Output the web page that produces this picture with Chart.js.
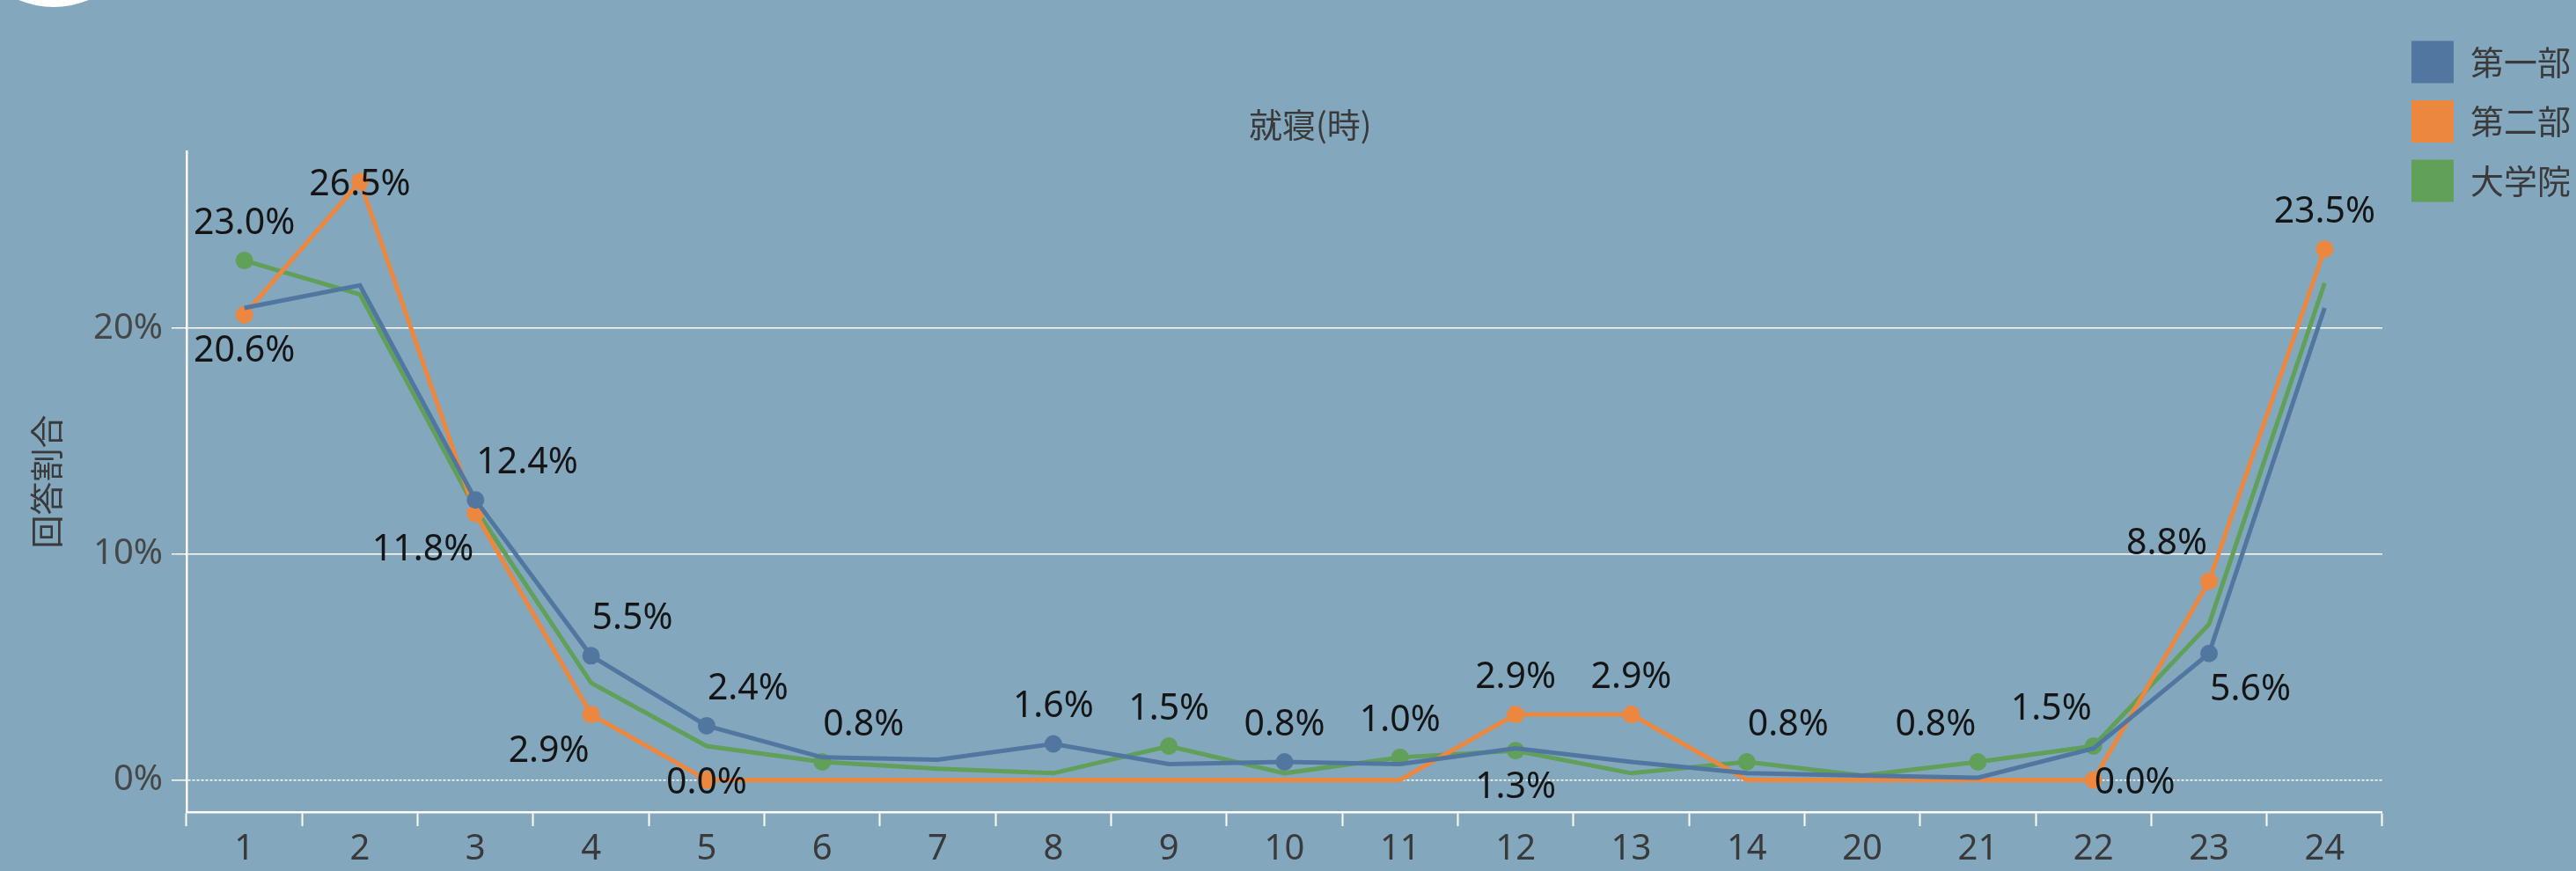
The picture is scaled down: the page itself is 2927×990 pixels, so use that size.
<!DOCTYPE html>
<html>
<head>
<meta charset="utf-8">
<script src="https://cdn.jsdelivr.net/npm/chart.js@4.4.1/dist/chart.umd.min.js"></script>
<style>
  html, body { margin: 0; padding: 0; background: #83a8be; overflow: hidden; }
  #wrap { position: relative; width: 2927px; height: 990px; }
  #dot { position: absolute; left: -43px; top: -200px; width: 208px; height: 208px; border-radius: 50%; background: #fff; }
</style>
</head>
<body>
<div id="wrap">
  <canvas id="chart"></canvas>
  <div id="dot"></div>
</div>
<script>
// 就寝時刻ごとの回答割合 (%)
var hours = ['1', '2', '3', '4', '5', '6', '7', '8', '9', '10', '11', '12', '13', '14', '20', '21', '22', '23', '24'];
var daiichi = [20.9, 21.9, 12.4, 5.5, 2.4, 1.0, 0.9, 1.6, 0.7, 0.8, 0.7, 1.4, 0.8, 0.3, 0.2, 0.1, 1.4, 5.6, 20.9];
var daini   = [20.6, 26.5, 11.8, 2.9, 0.0, 0.0, 0.0, 0.0, 0.0, 0.0, 0.0, 2.9, 2.9, 0.0, 0.0, 0.0, 0.0, 8.8, 23.5];
var daigakuin = [23.0, 21.5, 12.0, 4.3, 1.5, 0.8, 0.5, 0.3, 1.5, 0.3, 1.0, 1.3, 0.3, 0.8, 0.2, 0.8, 1.5, 6.9, 22.0];
var yTicks = [0, 10, 20];

// which points carry a label, and where it sits (a=above, b=below, c=on; l/r = side)
var labelSpots = [
  {2: 'ar', 3: 'ar', 4: 'ar', 7: 'a', 9: 'a', 17: 'br'},
  {0: 'b', 1: 'c', 2: 'bl', 3: 'bl', 4: 'c', 11: 'a', 12: 'a', 16: 'cr', 17: 'al', 18: 'a'},
  {0: 'a', 5: 'ar', 8: 'a', 10: 'a', 11: 'b', 13: 'ar', 15: 'al', 16: 'al'}
];

var jpFont = '"Noto Sans CJK JP", sans-serif';
var numFont = '"Noto Sans", "Noto Sans CJK JP", sans-serif';

function markerRadius(di) {
  return function(ctx) { return labelSpots[di][ctx.dataIndex] ? 10 : 0; };
}

var pctLabels = {
  id: 'pctLabels',
  afterDatasetsDraw: function(chart) {
    var ctx = chart.ctx;
    ctx.save();
    ctx.font = '41px ' + numFont;
    ctx.fillStyle = '#151515';
    ctx.textBaseline = 'middle';
    chart.data.datasets.forEach(function(ds, di) {
      var meta = chart.getDatasetMeta(di);
      var spots = labelSpots[di];
      Object.keys(spots).forEach(function(k) {
        var pt = meta.data[k];
        var s = spots[k];
        var dy = s[0] === 'a' ? -42 : (s[0] === 'b' ? 42 : 4);
        var dx = 0;
        ctx.textAlign = 'center';
        if (s[1] === 'r') { ctx.textAlign = 'left'; dx = 1; }
        if (s[1] === 'l') { ctx.textAlign = 'right'; dx = -2; }
        ctx.fillText(ds.data[k].toFixed(1) + '%', pt.x + dx, pt.y + dy);
      });
    });
    ctx.restore();
  }
};

// small horizontal shifts of legend and title boxes
var boxNudge = {
  id: 'boxNudge',
  afterLayout: function(chart) {
    chart.legend.left += 13.5;
    chart.legend.right += 13.5;
    chart.titleBlock.left += 15;
    chart.titleBlock.right += 15;
  }
};

new Chart(document.getElementById('chart'), {
  type: 'line',
  data: {
    labels: hours,
    datasets: [
      {
        label: '第一部',
        data: daiichi,
        borderColor: '#5177a0',
        backgroundColor: '#5177a0',
        borderWidth: 5,
        pointRadius: markerRadius(0),
        pointBorderWidth: 0,
        tension: 0
      },
      {
        label: '第二部',
        data: daini,
        borderColor: '#eb873f',
        backgroundColor: '#eb873f',
        borderWidth: 5,
        pointRadius: markerRadius(1),
        pointBorderWidth: 0,
        tension: 0
      },
      {
        label: '大学院',
        data: daigakuin,
        borderColor: '#61a058',
        backgroundColor: '#61a058',
        borderWidth: 5,
        pointRadius: markerRadius(2),
        pointBorderWidth: 0,
        tension: 0
      }
    ]
  },
  options: {
    responsive: true,
    maintainAspectRatio: false,
    animation: false,
    layout: { padding: { left: 30, top: 27, right: 9.5, bottom: 0 } },
    plugins: {
      tooltip: { enabled: false },
      title: {
        display: true,
        text: '就寝(時)',
        color: '#3a3a3a',
        font: { family: jpFont, size: 38, weight: 'normal' },
        padding: { top: 92, bottom: 7.5 }
      },
      legend: {
        position: 'right',
        align: 'start',
        labels: {
          boxWidth: 48,
          boxHeight: 48,
          padding: 19.5,
          color: '#3a3a3a',
          font: { family: jpFont, size: 38 },
          generateLabels: function(chart) {
            return Chart.defaults.plugins.legend.labels.generateLabels(chart).map(function(item) {
              item.lineWidth = 0;
              return item;
            });
          }
        }
      }
    },
    scales: {
      x: {
        type: 'category',
        offset: true,
        afterFit: function(scale) { scale.height = 67; },
        grid: {
          offset: true,
          drawOnChartArea: false,
          drawTicks: true,
          tickLength: 16,
          tickColor: '#ffffff',
          tickWidth: 2
        },
        border: { display: true, color: '#ffffff', width: 2.5 },
        ticks: {
          color: '#3a3a3a',
          font: { family: numFont, size: 40 },
          padding: 3,
          maxRotation: 0,
          autoSkip: false
        }
      },
      y: {
        min: -1.42,
        max: 27.83,
        afterBuildTicks: function(scale) {
          scale.ticks = yTicks.map(function(v) { return { value: v }; });
        },
        afterFit: function(scale) { scale.width = 182; },
        grid: {
          color: '#ffffff',
          lineWidth: 1.5,
          drawTicks: true,
          tickLength: 17,
          tickColor: '#ffffff',
          tickWidth: 1.5
        },
        border: {
          display: true,
          color: '#ffffff',
          width: 2.5,
          dash: function(ctx) { return ctx.tick && ctx.tick.value === 0 ? [3, 2] : []; }
        },
        ticks: {
          color: '#474747',
          font: { family: numFont, size: 40 },
          padding: 10,
          callback: function(v) { return v + '%'; }
        },
        title: {
          display: true,
          text: '回答割合',
          color: '#3a3a3a',
          font: { family: jpFont, size: 38 },
          padding: 0
        }
      }
    }
  },
  plugins: [pctLabels, boxNudge]
});
</script>
</body>
</html>
